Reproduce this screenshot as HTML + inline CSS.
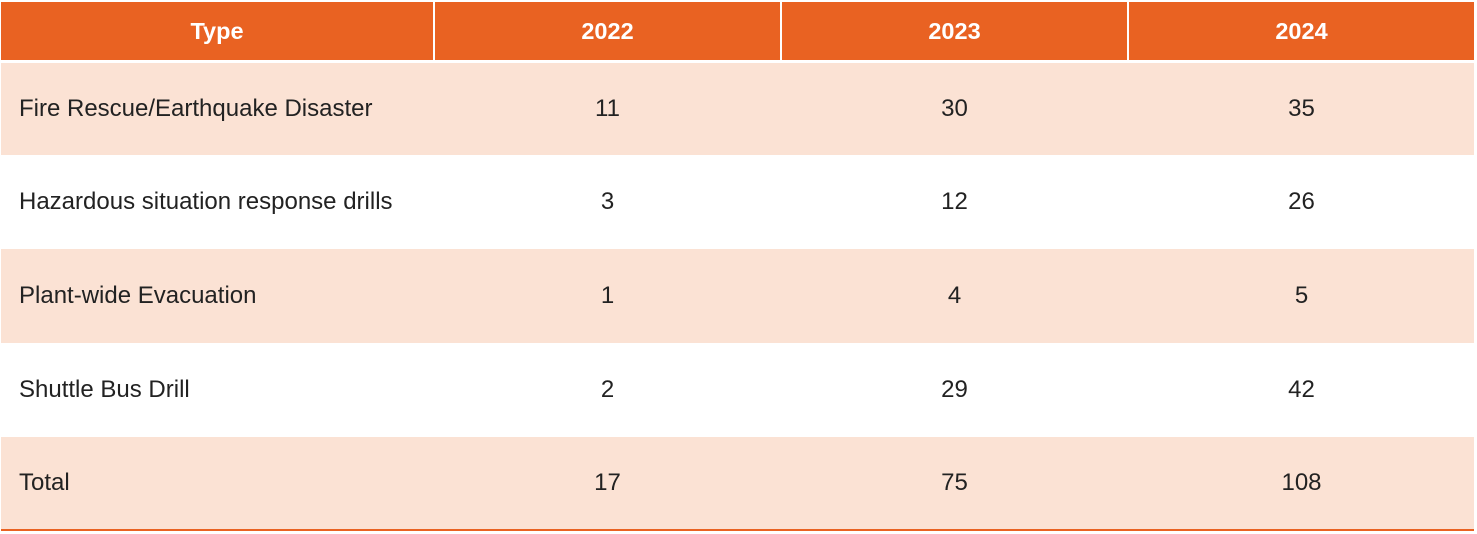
<!DOCTYPE html>
<html><head><style>
body{margin:0;width:1477px;height:534px;background:#fff;font-family:"Liberation Sans",sans-serif;position:relative;overflow:hidden}
.h{position:absolute;top:2px;height:58px;background:#E96222;color:#fff;font-weight:bold;font-size:23.5px;line-height:59px;text-align:center}
.r{position:absolute;left:1px;width:1473px}
.p{background:#FBE2D4}
.c{position:absolute;font-size:24px;color:#222;text-align:center;top:0;height:100%;display:flex;align-items:center;justify-content:center}
.l{justify-content:flex-start;left:18px}
</style></head><body>
<div class="h" style="left:1px;width:432px">Type</div>
<div class="h" style="left:435px;width:345px">2022</div>
<div class="h" style="left:782px;width:345px">2023</div>
<div class="h" style="left:1129px;width:345px">2024</div>

<div class="r p" style="top:63px;height:92px"><div class="c l">Fire Rescue/Earthquake Disaster</div><div class="c" style="left:434px;width:345px">11</div><div class="c" style="left:781px;width:345px">30</div><div class="c" style="left:1128px;width:345px">35</div></div>
<div class="r" style="top:155px;height:94px"><div class="c l">Hazardous situation response drills</div><div class="c" style="left:434px;width:345px">3</div><div class="c" style="left:781px;width:345px">12</div><div class="c" style="left:1128px;width:345px">26</div></div>
<div class="r p" style="top:249px;height:94px"><div class="c l">Plant-wide Evacuation</div><div class="c" style="left:434px;width:345px">1</div><div class="c" style="left:781px;width:345px">4</div><div class="c" style="left:1128px;width:345px">5</div></div>
<div class="r" style="top:343px;height:94px"><div class="c l">Shuttle Bus Drill</div><div class="c" style="left:434px;width:345px">2</div><div class="c" style="left:781px;width:345px">29</div><div class="c" style="left:1128px;width:345px">42</div></div>
<div class="r p" style="top:437px;height:92px;border-bottom:2px solid #E96222"><div class="c l">Total</div><div class="c" style="left:434px;width:345px">17</div><div class="c" style="left:781px;width:345px">75</div><div class="c" style="left:1128px;width:345px">108</div></div>
</body></html>
